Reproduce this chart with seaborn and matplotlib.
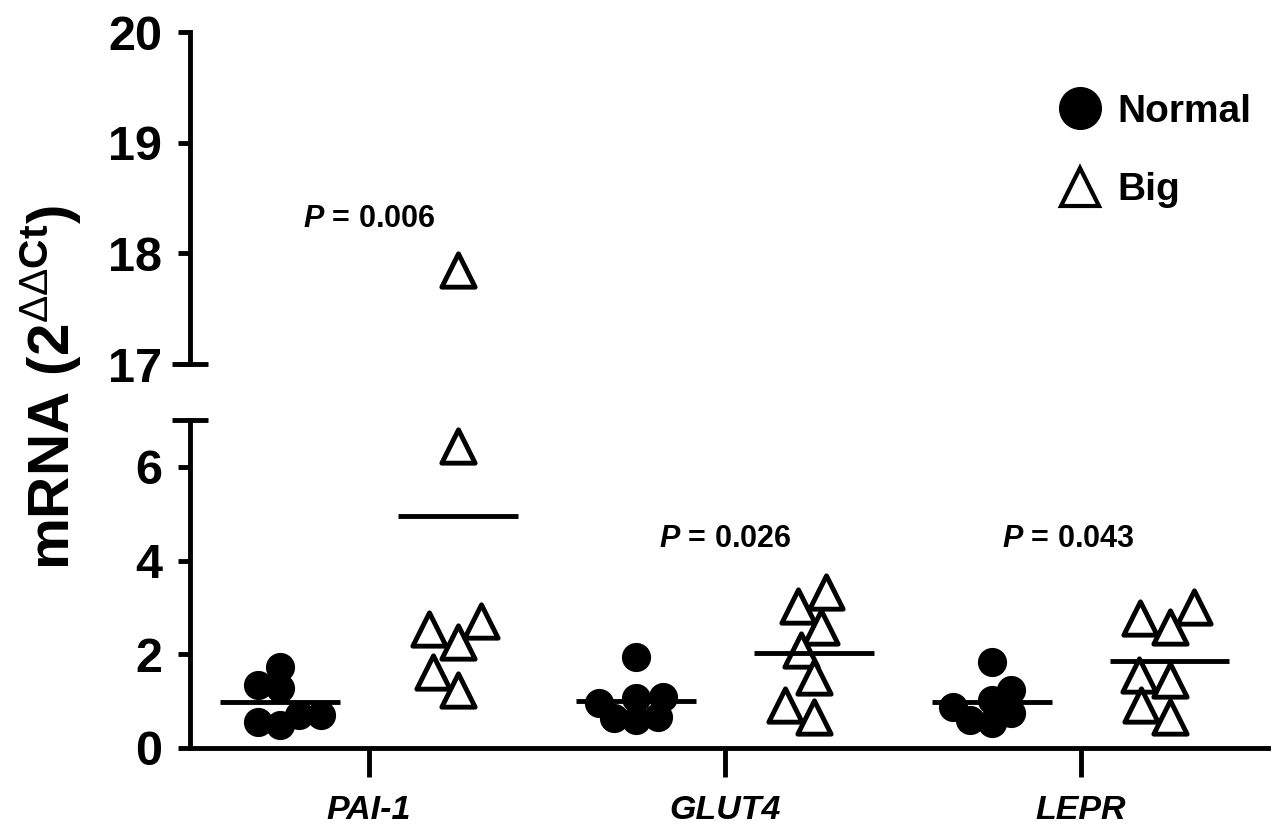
import pandas as pd
import matplotlib
matplotlib.use('Agg')
import matplotlib.pyplot as plt
from matplotlib.lines import Line2D
from matplotlib.collections import PathCollection
import seaborn as sns

sns.set_style('ticks')
plt.rcParams['font.family'] = ['Liberation Sans', 'DejaVu Sans']
plt.rcParams['text.color'] = 'black'
plt.rcParams['axes.edgecolor'] = 'black'
plt.rcParams['xtick.color'] = 'black'
plt.rcParams['ytick.color'] = 'black'
plt.rcParams['mathtext.fontset'] = 'custom'
plt.rcParams['mathtext.rm'] = 'Liberation Sans'
plt.rcParams['mathtext.bf'] = 'Liberation Sans:bold'
plt.rcParams['mathtext.it'] = 'Liberation Sans:italic:bold'

genes = ['PAI-1', 'GLUT4', 'LEPR']
groups = ['Normal', 'Big']

pai1_normal = [1.73, 1.28, 1.35, 0.71, 0.49, 0.56, 0.71]
pai1_big = [17.85, 6.45, 2.53, 2.27, 2.70, 1.63, 1.24]
glut4_normal = [1.95, 0.66, 0.60, 0.64, 1.07, 1.09, 0.96]
glut4_big = [3.02, 2.59, 3.32, 2.10, 1.52, 0.66, 0.92]
lepr_normal = [1.84, 1.24, 1.03, 0.75, 0.54, 0.60, 0.88]
lepr_big = [2.78, 2.59, 3.00, 1.46, 1.56, 0.92, 0.66]

p_values = ['0.006', '0.026', '0.043']

series = {
    ('PAI-1', 'Normal'): pai1_normal, ('PAI-1', 'Big'): pai1_big,
    ('GLUT4', 'Normal'): glut4_normal, ('GLUT4', 'Big'): glut4_big,
    ('LEPR', 'Normal'): lepr_normal, ('LEPR', 'Big'): lepr_big,
}
rows = []
for (gene, group), vals in series.items():
    for v in vals:
        rows.append({'gene': gene, 'group': group, 'slot': gene + ' ' + group, 'value': v})
df = pd.DataFrame(rows)
slots = [g + ' ' + grp for g in genes for grp in groups]

fig = plt.figure(figsize=(12.74, 8.38), dpi=100)
ax_top = fig.add_axes([0.1491, 0.5656, 0.846, 0.3962])
ax_bot = fig.add_axes([0.1491, 0.1074, 0.846, 0.3914])

lw = 3.5
for ax in (ax_top, ax_bot):
    sns.swarmplot(data=df[df.group == 'Normal'], x='slot', y='value', order=slots,
                  color='black', marker='o', size=15, linewidth=0, ax=ax)
    sns.swarmplot(data=df[df.group == 'Big'], x='slot', y='value', order=slots,
                  color='white', marker='^', edgecolor='black', linewidth=3.5, size=18, ax=ax)
    ax.set_xlim(-0.506, 5.55)
    ax.set_xlabel('')
    ax.set_ylabel('')
    for s in ax.spines.values():
        s.set_linewidth(lw)
    ax.spines['right'].set_visible(False)
    ax.spines['top'].set_visible(False)
    ax.tick_params(axis='y', length=9, width=lw, pad=11)

ax_top.set_ylim(17, 20)
ax_top.set_yticks([17, 18, 19, 20])
ax_top.set_yticklabels(['17', '18', '19', '20'], fontweight='bold', fontsize=35)
ax_top.spines['bottom'].set_visible(False)
ax_top.set_xticks([])

ax_bot.set_ylim(0, 7)
ax_bot.set_yticks([0, 2, 4, 6])
ax_bot.set_yticklabels(['0', '2', '4', '6'], fontweight='bold', fontsize=35)
ax_bot.set_xticks([0.5, 2.5, 4.5])
ax_bot.set_xticklabels(genes, fontweight='bold', fontstyle='italic', fontsize=24.5)
ax_bot.tick_params(axis='x', length=21, width=lw, pad=13)

# swarm computed with smaller markers so points overlap like the original
fig.canvas.draw()
for ax in (ax_top, ax_bot):
    for coll in ax.collections:
        if isinstance(coll, PathCollection):
            coll.__dict__.pop('draw', None)
            if coll.get_facecolor()[0][0] > 0.5:
                coll.set_sizes([24 ** 2])
            else:
                coll.set_sizes([21 ** 2])

# group means
means = df.groupby('slot')['value'].mean()
for ax in (ax_top, ax_bot):
    for i, sl in enumerate(slots):
        ax.hlines(means[sl], i - 0.335, i + 0.335, color='black', lw=3.5, zorder=4)

# axis break caps
cap = 18 / 1078
ax_top.plot([-cap, cap], [0, 0], transform=ax_top.transAxes, color='black', lw=lw,
            clip_on=False, solid_capstyle='butt')
ax_bot.plot([-cap, cap], [1, 1], transform=ax_bot.transAxes, color='black', lw=lw,
            clip_on=False, solid_capstyle='butt')

# p values
ax_top.text(0.5, 18.31, '$P$ = ' + p_values[0], ha='center', va='center',
            fontsize=22, fontweight='bold')
ax_bot.text(2.5, 4.45, '$P$ = ' + p_values[1], ha='center', va='center',
            fontsize=22, fontweight='bold')
ax_bot.text(4.43, 4.45, '$P$ = ' + p_values[2], ha='center', va='center',
            fontsize=22, fontweight='bold')

handles = [
    Line2D([], [], marker='o', linestyle='none', color='black', markersize=30),
    Line2D([], [], marker='^', linestyle='none', markerfacecolor='white',
           markeredgecolor='black', markeredgewidth=3, markersize=27),
]
leg = ax_top.legend(handles, groups, loc='upper right', bbox_to_anchor=(1.006, 0.885),
                    frameon=False, prop={'weight': 'bold', 'size': 28},
                    handlelength=1.2, handletextpad=0.35, labelspacing=1.1,
                    borderaxespad=0.2)

fig.text(0.04, 1 - 388 / 838, 'mRNA (2$^{\\Delta\\Delta \\mathbf{Ct}}$)', rotation=90,
         ha='center', va='center', fontsize=42, fontweight='bold')

fig.savefig('out.png', dpi=100)
